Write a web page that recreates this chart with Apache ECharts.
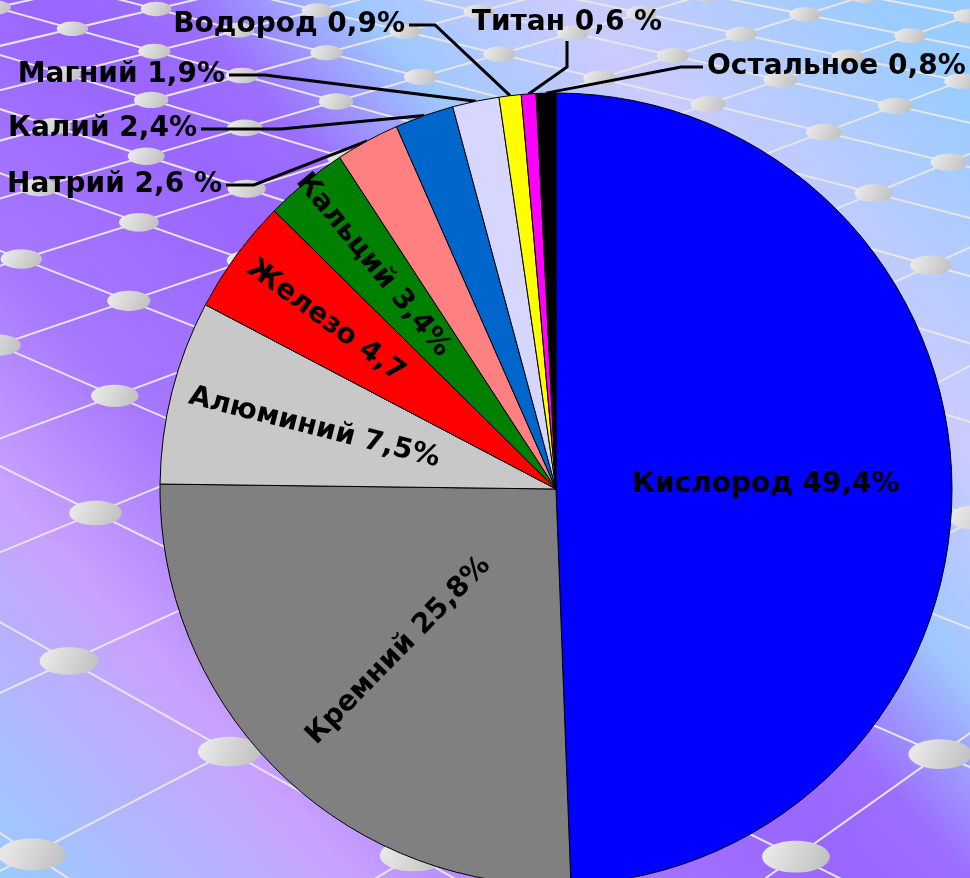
<!DOCTYPE html>
<html>
<head>
<meta charset="utf-8">
<title>Состав земной коры</title>
<style>
    html, body { margin: 0; padding: 0; }
    #chart { width: 970px; height: 878px; }
</style>
</head>
<body>
<div id="chart"></div>
<script src="https://cdn.jsdelivr.net/npm/echarts@6.0.0/dist/echarts.min.js"></script>
<script type="text/javascript">
    // данные
    var names = ['Кислород', 'Кремний', 'Алюминий', 'Железо', 'Кальций', 'Натрий', 'Калий', 'Магний', 'Водород', 'Титан', 'Остальное'];
    var values = [49.4, 25.8, 7.5, 4.7, 3.4, 2.6, 2.4, 1.9, 0.9, 0.6, 0.8];
    var labels = ['Кислород 49,4%', 'Кремний 25,8%', 'Алюминий 7,5%', 'Железо 4,7', 'Кальций 3,4%', 'Натрий 2,6 %', 'Калий 2,4%', 'Магний 1,9%', 'Водород 0,9%', 'Титан 0,6 %', 'Остальное 0,8%'];

    // оформление
    var colors = ['#0000ff', '#808080', '#c8c8c8', '#ff0000', '#008000', '#ff8080', '#0066cc', '#d6d6ff', '#ffff00', '#ff00ff', '#000000'];
    var cx = 556, cy = 489, R = 396;
    // подписи внутри: доля радиуса
    var inside = {0: 0.53, 1: 0.57, 2: 0.63, 3: 0.72, 4: 0.73};
    // подписи снаружи: точка текста, выравнивание, длина излома линии
    var outside = {
        5: {x: 222, y: 185, align: 'right', bend: 28},
        6: {x: 197, y: 129, align: 'right', bend: 80},
        7: {x: 225, y: 75, align: 'right', bend: 36},
        8: {x: 405, y: 25, align: 'right', bend: 26},
        9: {x: 567, y: 23, align: 'center', bend: 26},
        10: {x: 707, y: 67, align: 'left', bend: 22}
    };

    var total = values.reduce(function (s, v) { return s + v; }, 0);
    var mids = [], acc = 0;
    values.forEach(function (v) {
        mids.push((acc + v / 2) / total * Math.PI * 2);
        acc += v;
    });

    var data = names.map(function (n, i) {
        var item = {name: n, value: values[i], itemStyle: {color: colors[i]}};
        if (inside[i] != null) {
            item.label = {position: 'inside', rotate: i === 0 ? 0 : 'radial'};
            item.labelLine = {show: false};
        }
        return item;
    });

    //фон: сетка в перспективе
    var VA = [-2126, -577], VB = [2902, -640];
    var elements = [];
    var linesA = [], linesB = [];
    for (var i = -13; i <= 5; i++) {
        var x0 = 427 + 153 * i;
        linesA.push({x0: x0, k: (x0 - VA[0]) / (-VA[1])});
    }
    for (var j = -6; j <= 10; j++) {
        var x0b = 687 + 164.3 * j;
        linesB.push({x0: x0b, k: (x0b - VB[0]) / (-VB[1])});
    }
    linesA.concat(linesB).forEach(function (l) {
        elements.push({
            type: 'line', z: 0, silent: true,
            shape: {x1: l.x0 + l.k * -20, y1: -20, x2: l.x0 + l.k * 900, y2: 900},
            style: {stroke: '#e6e6e6', lineWidth: 2}
        });
    });
    linesA.forEach(function (a) {
        linesB.forEach(function (b) {
            var y = (b.x0 - a.x0) / (a.k - b.k);
            var x = a.x0 + a.k * y;
            if (x < -50 || x > 1020 || y < -30 || y > 920) return;
            var rx = 15 + 0.022 * y;
            elements.push({
                type: 'ellipse', z: 1, silent: true,
                shape: {cx: x, cy: y, rx: rx, ry: rx * 0.47},
                style: {
                    fill: {
                        type: 'linear', x: 0, y: 0, x2: 1, y2: 1,
                        colorStops: [{offset: 0, color: '#eeeeee'}, {offset: 1, color: '#bdbdbd'}]
                    }
                }
            });
        });
    });

    var chart = echarts.init(document.getElementById('chart'));
    chart.setOption({
        animation: false,
        backgroundColor: {
            type: 'linear', x: 0, y: 1, x2: 1, y2: 0,
            colorStops: [
                {offset: 0, color: '#99ccff'},
                {offset: 0.2, color: '#c9a1ff'},
                {offset: 0.32, color: '#a678ff'},
                {offset: 0.48, color: '#9966ff'},
                {offset: 0.55, color: '#9c6eff'},
                {offset: 0.65, color: '#9fc8ff'},
                {offset: 0.77, color: '#cccbff'},
                {offset: 0.95, color: '#99ccff'},
                {offset: 1, color: '#99ccff'}
            ]
        },
        graphic: {elements: elements},
        series: [{
            type: 'pie',
            z: 2,
            center: [cx, cy],
            radius: R,
            startAngle: 90,
            clockwise: true,
            avoidLabelOverlap: false,
            itemStyle: {borderColor: '#000', borderWidth: 1},
            label: {
                show: true,
                position: 'outside',
                overflow: 'none',
                color: '#000',
                fontFamily: 'DejaVu Sans',
                fontWeight: 'bold',
                fontSize: 28,
                formatter: function (p) { return labels[p.dataIndex]; }
            },
            labelLine: {show: true, lineStyle: {color: '#000', width: 3}},
            emphasis: {disabled: true},
            labelLayout: function (p) {
                var i = p.dataIndex, m = mids[i];
                var o = outside[i];
                if (o) {
                    var a = [cx + R * Math.sin(m), cy - R * Math.cos(m)];
                    var end, elbow;
                    if (o.align === 'right') {
                        end = [o.x + 4, o.y];
                        elbow = [end[0] + o.bend, o.y];
                    } else if (o.align === 'left') {
                        end = [o.x - 4, o.y];
                        elbow = [end[0] - o.bend, o.y];
                    } else {
                        end = [o.x, o.y + p.labelRect.height / 2 + 4];
                        elbow = [o.x, end[1] + o.bend];
                    }
                    return {x: o.x, y: o.y, align: o.align, verticalAlign: 'middle', labelLinePoints: [a, elbow, end]};
                }
                var f = inside[i];
                return {x: cx + f * R * Math.sin(m), y: cy - f * R * Math.cos(m)};
            },
            data: data
        }]
    });
</script>
</body>
</html>
